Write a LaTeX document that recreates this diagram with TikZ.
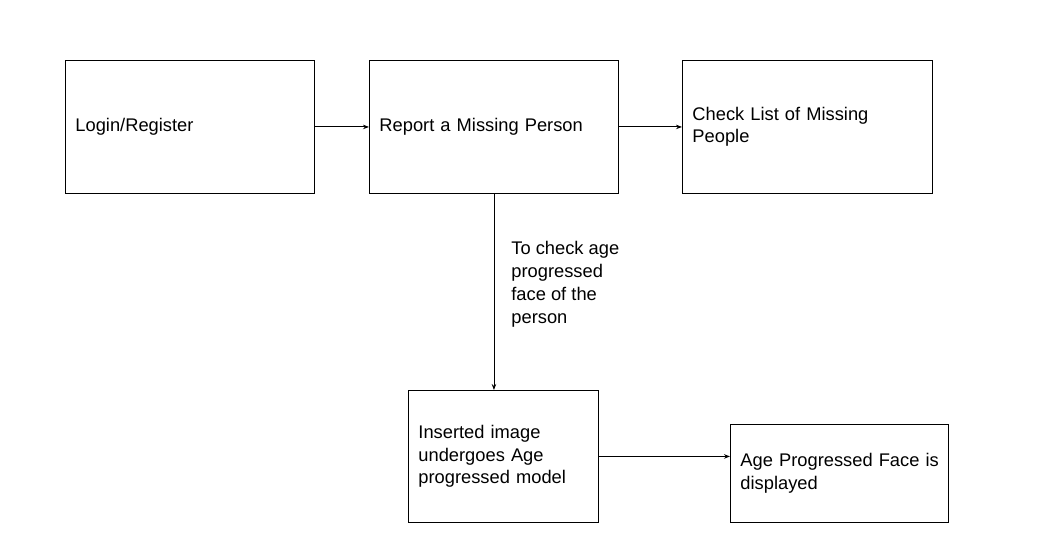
\documentclass[tikz,border=0pt]{standalone}
\usepackage{fontspec}
\setmainfont{Liberation Sans}
\usetikzlibrary{arrows.meta}
\newcommand{\lowerby}{\par\vspace*{-6pt}}
\begin{document}
\begin{tikzpicture}[x=1pt,y=-1pt,
  box/.style={draw=black,line width=0.9pt,anchor=north west,inner xsep=10pt,inner ysep=4pt,align=left,
    font=\fontsize{18.3}{22.6}\selectfont},
  arr/.style={draw=black,line width=0.9pt,-{Stealth[length=6pt,width=4.5pt]}},
  lbl/.style={font=\fontsize{18.3}{23}\selectfont,align=left,inner sep=0pt,anchor=west}]
\fill[white] (0,0) rectangle (1038,553);
\useasboundingbox (0,0) rectangle (1038,553);
\node[box,minimum width=249pt,minimum height=133pt,text width=229pt] (log) at (65,60) {\strut Login/Register\lowerby};
\node[box,minimum width=249pt,minimum height=133pt,text width=229pt] (rep) at (369,60) {\strut Report a Missing Person\lowerby};
\node[box,minimum width=250pt,minimum height=133pt,text width=230pt] (chk) at (682,60) {Check List of Missing\\People\lowerby};
\node[box,minimum width=190pt,minimum height=132pt,text width=170pt] (ins) at (408,390) {Inserted image\\undergoes Age\\progressed model\lowerby};
\node[box,minimum width=218pt,minimum height=98pt,text width=198pt] (age) at (730,424) {\mbox{Age Progressed Face is}\\displayed\lowerby};
\draw[arr] (log) -- (rep);
\draw[arr] (rep) -- (chk);
\draw[arr] (rep.south) -- node[lbl,pos=0.46,xshift=17pt] {To check age\\progressed\\face of the\\person} (rep.south |- ins.north);
\draw[arr] (ins.east) -- (ins.east -| age.west);
\end{tikzpicture}
\end{document}
